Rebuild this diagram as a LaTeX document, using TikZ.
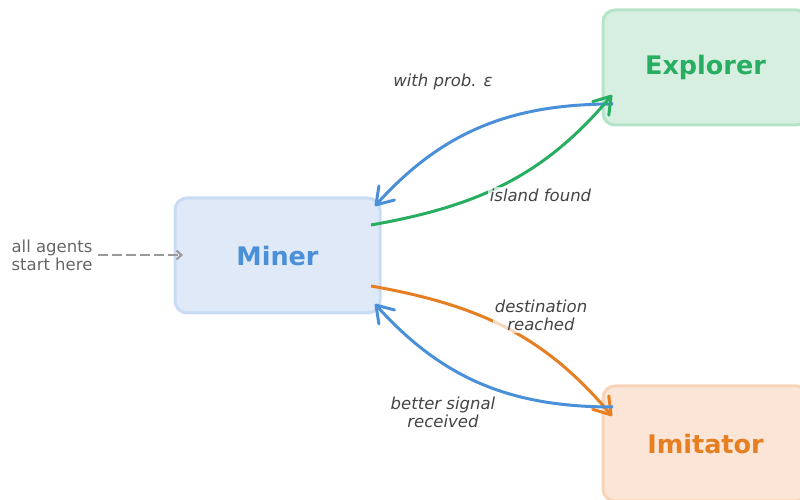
\documentclass[tikz,border=0pt]{standalone}
\usepackage{fontspec}
\setmainfont{DejaVu Sans}
\usetikzlibrary{arrows.meta}
\definecolor{cblue}{HTML}{4A90D9}
\definecolor{cgreen}{HTML}{27AE60}
\definecolor{corange}{HTML}{E67E22}
\definecolor{mfill}{HTML}{DFE9F7}
\definecolor{mborder}{HTML}{C8DCF5}
\definecolor{efill}{HTML}{D6EFE1}
\definecolor{eborder}{HTML}{B5E3C8}
\definecolor{ifill}{HTML}{FAE5D7}
\definecolor{iborder}{HTML}{F7D3B8}
\definecolor{labelgray}{HTML}{444444}
\definecolor{notegray}{HTML}{666666}
\definecolor{dashgray}{HTML}{999999}
\begin{document}
\begin{tikzpicture}[x=1pt,y=1pt,
  box/.style={rounded corners=12pt, line width=3pt, minimum width=205pt, minimum height=115pt, inner sep=0pt, font=\fontsize{25.5}{30}\selectfont\bfseries},
  lbl/.style={font=\fontsize{16.5}{18}\selectfont\itshape, text=labelgray, align=center, fill=white, fill opacity=0.7, text opacity=1, inner sep=2pt},
  conn/.style={line width=3pt, -{Straight Barb[length=16pt,width=21pt,round]}}]
\useasboundingbox (0,0) rectangle (800,500);
\clip (0,0) rectangle (800,500);
\node[box, fill=mfill, draw=mborder, text=cblue] (miner) at (277.5,244.5) {Miner};
\node[box, fill=efill, draw=eborder, text=cgreen] (expl) at (705.5,432.5) {Explorer};
\node[box, fill=ifill, draw=iborder, text=corange] (imit) at (705.5,56.5) {Imitator};
\node[font=\fontsize{16.5}{18}\selectfont, text=notegray, align=center] (note) at (52,245) {all agents\\start here};
\coordinate (nS) at (98,245);
\coordinate (nE) at (183,245);
\coordinate (eB) at (613,396);
\coordinate (mB1) at (375,294);
\coordinate (mG) at (371,275);
\coordinate (eG) at (612,405);
\coordinate (mO) at (371,214);
\coordinate (iO) at (612,84);
\coordinate (iB) at (613,93);
\coordinate (mB2) at (375,196);
\draw[dashgray, line width=2pt, dash pattern=on 10pt off 4pt, -{Straight Barb[length=5pt,width=9pt]}] (nS) -- (nE);
\draw[conn, cblue] (eB) to[out=180, in=48] (mB1);
\draw[conn, cgreen] (mG) to[out=10, in=230] (eG);
\draw[conn, corange] (mO) to[out=-10, in=130] (iO);
\draw[conn, cblue] (iB) to[out=180, in=-48] (mB2);
\node[lbl] (l1) at (443,418) {with prob. ε};
\node[lbl] (l2) at (540.5,305) {island found};
\node[lbl] (l3) at (541,184.5) {destination\\reached};
\node[lbl] (l4) at (443,87.5) {better signal\\received};
\end{tikzpicture}
\end{document}
